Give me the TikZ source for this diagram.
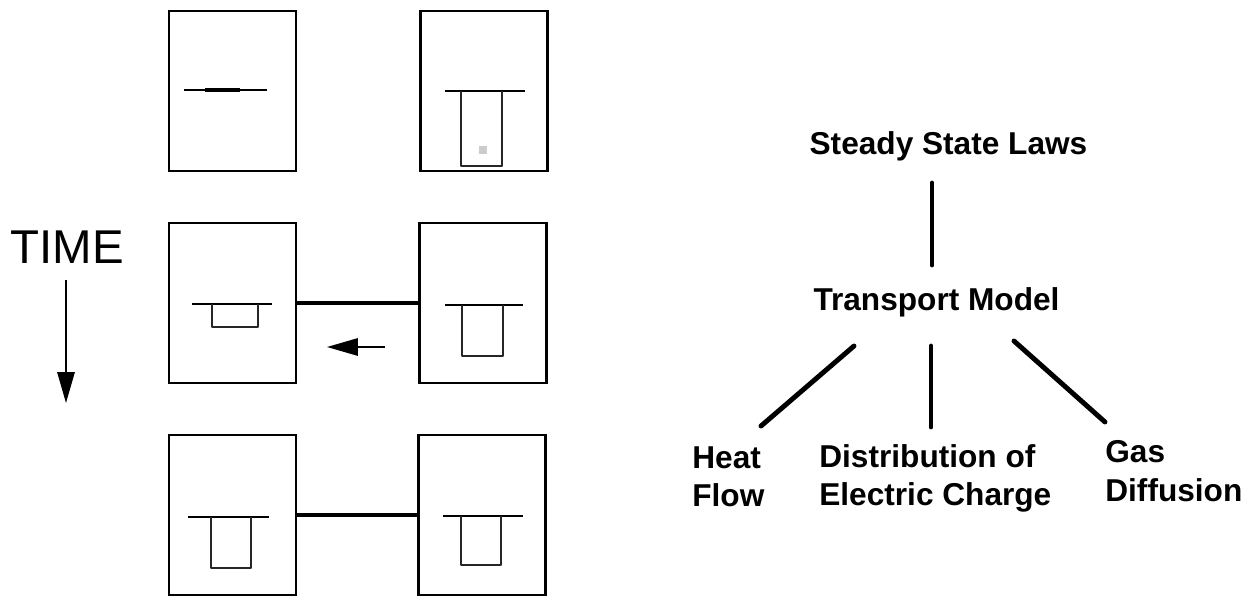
\documentclass[tikz,border=0pt]{standalone}
\usepackage{fontspec}
\newfontfamily\helv{Liberation Sans}
\usetikzlibrary{arrows.meta}

\begin{document}
\begin{tikzpicture}[
    x=0.02cm, y=-0.02cm,
    box node/.style={draw, line width=1.6pt, minimum width=2.54cm, minimum height=3.2cm, inner sep=0pt, outer sep=0pt},
    plate line/.style={line width=1.3pt},
    cup line/.style={draw=black!85, line width=1.4pt, line join=round},
    bar line/.style={line width=2.6pt},
    flow arrow/.style={line width=0.9pt, -{Triangle[length=0.62cm,width=0.35cm]}},
    time node/.style={font=\helv\fontsize{27pt}{30pt}\selectfont, inner sep=0pt, anchor=base west},
    law node/.style={font=\helv\bfseries\fontsize{18pt}{22pt}\selectfont, inner sep=0pt, anchor=base},
    leaf node/.style={font=\helv\bfseries\fontsize{18pt}{22pt}\selectfont, inner sep=0pt, align=left, anchor=north west},
    branch line/.style={line width=2.8pt, line cap=round}
]

%================FRAME================
\useasboundingbox (0,0) rectangle (1255,596);

%================LEFT: CELLS OVER TIME================
% --- 1. Boxes (row 1 top, 2 middle, 3 bottom) ---
\foreach \name/\x/\y in {B1L/232.5/91, B1R/484/91, B2L/232.5/303, B2R/483/303, B3L/232.5/515, B3R/482/515} {
    \node[box node] (\name) at (\x,\y) {};
}

% --- 2. Plates and cups ---
% flat plate in the first box, thicker in the middle
\draw[plate line] (184,90) -- (267,90);
\draw[line width=2.6pt] (205,90) -- (240,90);

% plate from \pa to \pb at \py, cup from \ca to \cb down to \cd
\foreach \pa/\pb/\py/\ca/\cb/\cd in {445/525/91/461/502/166, 192/272/304/212/258/327,
    445/523/305/462/503/356, 188/269/517/211/251/568, 443/523/516/461/501/565} {
    \draw[plate line] (\pa,\py) -- (\pb,\py);
    \draw[cup line] (\ca,\py) -- (\ca,\cd) -- (\cb,\cd) -- (\cb,\py);
}
\fill[gray!40] (479,146) rectangle (487,154);

% --- 3. Bars between the boxes ---
\draw[bar line] (B2L.east) -- (B2R.west);
\draw[bar line] (B3L.east) -- (B3R.west);

% --- 4. Arrows ---
\coordinate (flowR) at (385,347);
\coordinate (flowL) at (327,347);
\draw[flow arrow] (flowR) -- (flowL);

\node[time node] (time) at (10,263) {TIME};
\coordinate (timeA) at (66,280);
\coordinate (timeB) at (66,403);
\draw[flow arrow] (timeA) -- (timeB);

%================RIGHT: LAWS TREE================
\node[law node] (laws) at (948.5,154) {Steady State Laws};
\node[law node] (model) at (936.5,310) {Transport Model};

\node[leaf node] (heat) at (692,446) {Heat\\Flow};
\node[leaf node] (charge) at (819,444) {Distribution of\\Electric Charge};
\node[leaf node] (gas) at (1105,440) {Gas\\Diffusion};

% line ends (the lines stop short of the texts)
\coordinate (lawsFoot) at (932,183);
\coordinate (modelHead) at (932,265);
\coordinate (modelL) at (854,346);
\coordinate (modelM) at (931,346);
\coordinate (modelR) at (1014,341);
\coordinate (heatTop) at (761,426);
\coordinate (chargeTop) at (931,427);
\coordinate (gasTop) at (1105,422);

\draw[branch line] (lawsFoot) -- (modelHead);
\draw[branch line] (modelL) -- (heatTop);
\draw[branch line] (modelM) -- (chargeTop);
\draw[branch line] (modelR) -- (gasTop);

\end{tikzpicture}
\end{document}
